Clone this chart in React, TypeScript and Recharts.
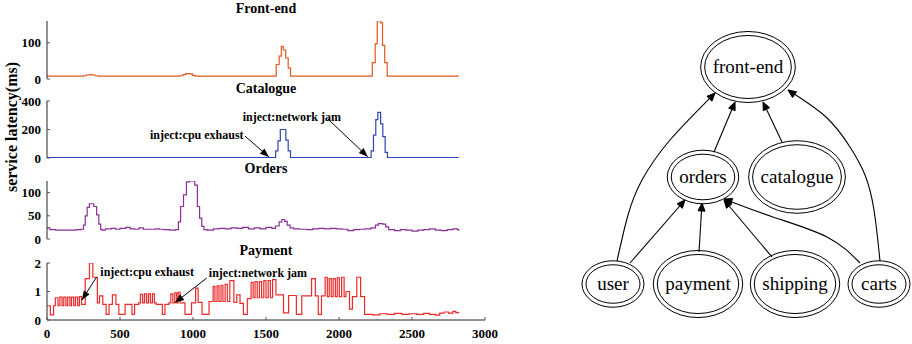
import React from "react";
import {
  LineChart,
  Line,
  XAxis,
  YAxis,
  ReferenceLine,
  ReferenceDot,
  ComposedChart,
  Scatter,
} from "recharts";

// ---- data (x = time index, y = latency) ----
const X_TICKS = [0, 500, 1000, 1500, 2000, 2500, 3000];

const frontEnd: [number, number][] = [
  [0, 8], [250, 9], [270, 11], [290, 12], [310, 11], [330, 9], [350, 8],
  [910, 9], [930, 12], [950, 15], [975, 14], [995, 10], [1015, 8],
  [1570, 40], [1590, 63], [1605, 90], [1618, 80], [1635, 58], [1652, 30], [1668, 8],
  [2228, 45], [2248, 97], [2262, 160], [2286, 155], [2298, 93], [2313, 45], [2330, 8],
  [2820, 8],
];

const catalogue: [number, number][] = [
  [0, 3], [1566, 50], [1582, 120], [1598, 200], [1636, 125], [1652, 50], [1668, 3],
  [2220, 50], [2236, 160], [2252, 270], [2266, 320], [2285, 240], [2300, 150], [2316, 40], [2332, 3],
  [2820, 3],
];

const orders: [number, number][] = [
  [0, 24], [20, 20], [60, 19], [120, 19], [200, 20], [232, 21], [250, 30], [262, 50], [275, 68],
  [290, 76], [320, 70], [340, 52], [355, 32], [368, 20], [380, 19], [400, 22], [440, 23], [470, 21],
  [500, 23], [540, 25], [570, 22], [600, 21], [630, 24], [660, 21], [700, 21], [740, 22], [770, 21],
  [800, 20], [840, 19], [880, 20], [900, 37], [915, 70], [935, 95], [955, 123], [975, 125], [995, 125],
  [1012, 116], [1030, 70], [1045, 45], [1060, 27], [1075, 20], [1100, 19], [1140, 22], [1180, 23],
  [1220, 22], [1260, 24], [1300, 23], [1340, 25], [1380, 22], [1420, 24], [1460, 22], [1500, 25],
  [1540, 23], [1565, 28], [1590, 37], [1608, 42], [1628, 38], [1645, 30], [1665, 24], [1690, 22],
  [1730, 21], [1780, 20], [1820, 22], [1860, 23], [1900, 22], [1940, 23], [1980, 22], [2020, 21],
  [2060, 18], [2100, 20], [2140, 21], [2180, 22], [2220, 24], [2250, 30], [2270, 33], [2300, 32],
  [2320, 26], [2340, 20], [2380, 18], [2420, 20], [2460, 19], [2500, 17], [2540, 19], [2580, 20],
  [2620, 22], [2660, 19], [2700, 18], [2740, 20], [2780, 22], [2810, 20], [2820, 18],
];

const payment: [number, number][] = [
  [0, 0.5], [23, 0.18], [45, 0.5], [57, 0.78], [75, 0.5], [88, 0.8], [103, 0.5], [115, 0.8],
  [130, 0.5], [142, 0.8], [157, 0.5], [168, 0.8], [183, 0.5], [195, 0.8], [210, 0.5], [222, 0.82],
  [237, 0.55], [262, 1.45], [291, 2.0], [314, 1.5], [345, 0.6], [360, 0.85], [382, 0.55], [405, 0.2],
  [425, 0.55], [448, 0.88], [472, 0.55], [492, 0.2], [535, 0.55], [582, 0.2], [600, 0.55], [628, 0.6],
  [640, 0.9], [655, 0.6], [668, 0.92], [682, 0.6], [695, 0.92], [708, 0.6], [722, 0.92], [735, 0.6],
  [748, 0.55], [790, 0.2], [808, 0.55], [835, 0.6], [848, 0.92], [862, 0.6], [875, 0.95], [888, 0.6],
  [898, 0.97], [912, 0.6], [945, 0.2], [990, 0.6], [1018, 1.12], [1035, 0.62], [1062, 0.2],
  [1110, 0.65], [1138, 1.18], [1150, 0.65], [1165, 1.2], [1178, 0.65], [1192, 1.22], [1205, 0.65],
  [1220, 1.25], [1235, 0.65], [1252, 1.38], [1280, 0.62], [1300, 0.88], [1322, 0.58], [1345, 0.2],
  [1372, 0.75], [1398, 1.32], [1412, 0.78], [1425, 1.35], [1440, 0.78], [1455, 1.35], [1470, 0.78],
  [1485, 1.38], [1500, 0.78], [1515, 1.38], [1530, 0.78], [1545, 1.42], [1568, 0.88], [1620, 0.25],
  [1655, 0.86], [1708, 0.2], [1745, 0.85], [1812, 1.45], [1838, 0.85], [1858, 0.2], [1880, 0.85],
  [1905, 1.5], [1920, 0.82], [1933, 1.45], [1947, 0.82], [1960, 1.45], [1975, 0.82], [1988, 1.48],
  [2002, 0.82], [2018, 1.5], [2035, 0.82], [2048, 1.0], [2072, 0.38], [2092, 0.82], [2122, 1.5],
  [2148, 0.82], [2175, 0.2], [2230, 0.18], [2280, 0.22], [2330, 0.2], [2380, 0.23], [2430, 0.2],
  [2480, 0.22], [2530, 0.2], [2580, 0.23], [2620, 0.2], [2660, 0.17], [2690, 0.24], [2720, 0.28],
  [2750, 0.24], [2780, 0.3], [2800, 0.26], [2820, 0.27],
];

type Note = { text: string; at: [number, number]; from: [number, number]; to: [number, number] };

const catalogueNotes: Note[] = [
  { text: "inject:cpu exhaust", at: [1026, 166], from: [1356, 154], to: [1520, 7] },
  { text: "inject:network jam", at: [1677, 290], from: [1924, 274], to: [2197, 9] },
];
const paymentNotes: Note[] = [
  { text: "inject:cpu exhaust", at: [686, 1.69], from: [340, 1.51], to: [239, 0.7] },
  { text: "inject:network jam", at: [1445, 1.65], from: [1094, 1.47], to: [877, 0.61] },
];

// dependency graph
const graphEdges: [string, string][] = [
  ["user", "front-end"],
  ["orders", "front-end"],
  ["catalogue", "front-end"],
  ["carts", "front-end"],
  ["user", "orders"],
  ["payment", "orders"],
  ["shipping", "orders"],
  ["carts", "orders"],
];

// ---- layout / style ----
const FONT = '"Liberation Serif", "Times New Roman", serif';
const AXIS = "#262626";
const TICK = "#555";
const CHART_W = 500;
const PLOT_LEFT = 47;
const PLOT_RIGHT = 485;

// graph layout in panel pixels (graphviz-like)
const NODE_POS: Record<string, [number, number]> = {
  "front-end": [188, 67],
  orders: [143, 177],
  catalogue: [237, 177],
  user: [53, 284],
  payment: [138, 284],
  shipping: [235, 284],
  carts: [319, 284],
};
const EDGE_ROUTES: [number, number][][] = [
  [[57, 261], [68, 215], [82, 180], [110, 140], [155, 93]],
  [[154, 152], [175, 102]],
  [[222, 142], [203, 102]],
  [[320, 261], [314, 210], [305, 175], [290, 147], [266, 117], [228, 90]],
  [[70, 263], [125, 200]],
  [[139, 252], [142, 203]],
  [[212, 257], [164, 200]],
  [[300, 263], [267, 237], [213, 217], [164, 199]],
];

function arrowHead(x1: number, y1: number, x2: number, y2: number, len: number, half: number) {
  const a = Math.atan2(y2 - y1, x2 - x1);
  const bx = x2 - len * Math.cos(a);
  const by = y2 - len * Math.sin(a);
  const px = -Math.sin(a) * half;
  const py = Math.cos(a) * half;
  return `${x2},${y2} ${bx + px},${by + py} ${bx - px},${by - py}`;
}

let measureCtx: CanvasRenderingContext2D | null = null;
function textWidth(s: string) {
  if (typeof document === "undefined") return s.length * 8.2;
  if (!measureCtx) measureCtx = document.createElement("canvas").getContext("2d");
  if (!measureCtx) return s.length * 8.2;
  measureCtx.font = `19px ${FONT}`;
  return measureCtx.measureText(s).width;
}

function Panel({
  title,
  series,
  color,
  plotTop,
  plotHeight,
  yMax,
  yTicks,
  xLabels = false,
  notes = [],
}: {
  title: string;
  series: [number, number][];
  color: string;
  plotTop: number;
  plotHeight: number;
  yMax: number;
  yTicks: number[];
  xLabels?: boolean;
  notes?: Note[];
}) {
  // extra room above/below the plot so edge tick labels are not clipped
  const mt = 9;
  const mb = xLabels ? 2 : 9;
  const xh = xLabels ? 22 : 0;
  const rows = series.map(([x, y]) => ({ x, y }));
  return (
    <>
      <div
        style={{
          position: "absolute",
          left: PLOT_LEFT,
          width: PLOT_RIGHT - PLOT_LEFT,
          top: plotTop - 20,
          lineHeight: "16px",
          textAlign: "center",
          fontFamily: FONT,
          fontWeight: "bold",
          fontSize: 14,
          color: "#000",
        }}
      >
        {title}
      </div>
      <div style={{ position: "absolute", left: 0, top: plotTop - mt }}>
        <LineChart
          width={CHART_W}
          height={mt + plotHeight + xh + mb}
          data={rows}
          margin={{ top: mt, right: CHART_W - PLOT_RIGHT, bottom: mb, left: PLOT_LEFT - 40 }}
        >
          <XAxis
            xAxisId="b"
            dataKey="x"
            type="number"
            domain={[0, 3000]}
            ticks={X_TICKS}
            interval={0}
            allowDataOverflow
            height={xh}
            tickSize={0}
            tickMargin={9}
            tickLine={false}
            axisLine={{ stroke: AXIS }}
            tick={(p: any) => (
              <g>
                <line x1={p.x} x2={p.x} y1={p.y - 9} y2={p.y - 12} stroke={TICK} />
                {xLabels && (
                  <text x={p.x} y={p.y} dy="0.71em" textAnchor="middle" fontFamily={FONT} fontWeight="bold" fontSize={13} fill="#000">
                    {p.payload.value}
                  </text>
                )}
              </g>
            )}
          />
          <XAxis
            xAxisId="t"
            dataKey="x"
            type="number"
            orientation="top"
            domain={[0, 3000]}
            ticks={X_TICKS}
            interval={0}
            allowDataOverflow
            height={0}
            tickSize={0}
            tickMargin={0}
            tickLine={false}
            axisLine={{ stroke: AXIS }}
            tick={(p: any) => <line x1={p.x} x2={p.x} y1={p.y} y2={p.y + 3} stroke={TICK} />}
          />
          <YAxis
            yAxisId="l"
            type="number"
            domain={[0, yMax]}
            ticks={yTicks}
            interval={0}
            allowDataOverflow
            width={40}
            tickSize={0}
            tickMargin={6}
            tickLine={false}
            axisLine={{ stroke: AXIS }}
            tick={(p: any) => (
              <g>
                <line x1={p.x + 6} x2={p.x + 9} y1={p.y} y2={p.y} stroke={TICK} />
                <text x={p.x} y={p.y} dy="0.36em" textAnchor="end" fontFamily={FONT} fontWeight="bold" fontSize={13} fill="#000">
                  {p.payload.value}
                </text>
              </g>
            )}
          />
          <YAxis
            yAxisId="r"
            orientation="right"
            type="number"
            domain={[0, yMax]}
            ticks={yTicks}
            interval={0}
            allowDataOverflow
            width={0}
            tickSize={0}
            tickMargin={0}
            tickLine={false}
            axisLine={{ stroke: AXIS }}
            tick={(p: any) => <line x1={p.x} x2={p.x - 3} y1={p.y} y2={p.y} stroke={TICK} />}
          />
          <Line
            xAxisId="b"
            yAxisId="l"
            dataKey="y"
            type="stepAfter"
            stroke={color}
            strokeWidth={1.2}
            dot={false}
            activeDot={false}
            isAnimationActive={false}
          />
          {notes.map((n, i) => (
            <ReferenceLine
              key={`l${i}`}
              xAxisId="b"
              yAxisId="l"
              ifOverflow="visible"
              segment={[
                { x: n.from[0], y: n.from[1] },
                { x: n.to[0], y: n.to[1] },
              ]}
              shape={(p: any) => (
                <g>
                  <line x1={p.x1} y1={p.y1} x2={p.x2} y2={p.y2} stroke="#000" strokeWidth={1} />
                  <polygon points={arrowHead(p.x1, p.y1, p.x2, p.y2, 9, 3.5)} fill="#000" />
                </g>
              )}
            />
          ))}
          {notes.map((n, i) => (
            <ReferenceDot
              key={`t${i}`}
              xAxisId="b"
              yAxisId="l"
              x={n.at[0]}
              y={n.at[1]}
              r={0}
              ifOverflow="visible"
              shape={(p: any) => (
                <text x={p.cx} y={p.cy} dy="0.35em" textAnchor="middle" fontFamily={FONT} fontWeight="bold" fontSize={12} fill="#000">
                  {n.text}
                </text>
              )}
            />
          ))}
        </LineChart>
      </div>
    </>
  );
}

function NodeShape(p: any) {
  const { cx, cy, payload } = p;
  const rx = Math.max(31, textWidth(payload.name) / 2 + 12);
  const ry = rx * 0.75;
  return (
    <g>
      <ellipse cx={cx} cy={cy} rx={rx} ry={ry} fill="none" stroke="#000" strokeWidth={1} />
      <ellipse cx={cx} cy={cy} rx={rx - 4} ry={ry - 4} fill="none" stroke="#000" strokeWidth={1} />
      <text x={cx} y={cy} dy="0.3em" textAnchor="middle" fontFamily={FONT} fontSize={19} fill="#000">
        {payload.name}
      </text>
    </g>
  );
}

function Graph() {
  const nodes = Object.keys(NODE_POS).map((name) => ({ name, x: NODE_POS[name][0], y: NODE_POS[name][1] }));
  return (
    <div style={{ position: "absolute", left: 560, top: 0 }}>
      <ComposedChart width={352} height={344} margin={{ top: 0, right: 0, bottom: 0, left: 0 }}>
        <XAxis dataKey="x" type="number" domain={[0, 352]} allowDataOverflow hide />
        <YAxis dataKey="y" type="number" domain={[0, 344]} reversed allowDataOverflow hide />
        {graphEdges.map((e, i) => {
          const route = EDGE_ROUTES[i];
          const pts = route.map(([x, y]) => ({ x, y }));
          const last = route.length - 1;
          return (
            <Line
              key={`${e[0]}-${e[1]}`}
              data={pts}
              dataKey="y"
              type="natural"
              stroke="#000"
              strokeWidth={1.1}
              activeDot={false}
              isAnimationActive={false}
              dot={(d: any) => {
                if (d.index !== last) return <g key={`d${i}-${d.index}`} />;
                const [ax, ay] = route[last - 1];
                const [bx, by] = route[last];
                const a = Math.atan2(by - ay, bx - ax);
                const ox = d.cx - Math.cos(a) * 8;
                const oy = d.cy - Math.sin(a) * 8;
                return <polygon key={`d${i}-${d.index}`} points={arrowHead(ox, oy, d.cx, d.cy, 8, 3.5)} fill="#000" stroke="#000" />;
              }}
            />
          );
        })}
        <Scatter data={nodes} shape={NodeShape} isAnimationActive={false} />
      </ComposedChart>
    </div>
  );
}

export default function App() {
  return (
    <div style={{ position: "absolute", left: 0, top: 0, width: 912, height: 344, background: "#fff" }}>
      <Panel title="Front-end" series={frontEnd} color="#e2581f" plotTop={21} plotHeight={58} yMax={160} yTicks={[0, 100]} />
      <Panel
        title="Catalogue"
        series={catalogue}
        color="#3043b4"
        plotTop={101}
        plotHeight={57}
        yMax={400}
        yTicks={[0, 200, 400]}
        notes={catalogueNotes}
      />
      <Panel title="Orders" series={orders} color="#8b2f97" plotTop={181} plotHeight={58} yMax={125} yTicks={[0, 50, 100]} />
      <Panel
        title="Payment"
        series={payment}
        color="#ec2a2a"
        plotTop={263}
        plotHeight={57}
        yMax={2}
        yTicks={[0, 1, 2]}
        xLabels
        notes={paymentNotes}
      />
      <div
        style={{
          position: "absolute",
          left: 12,
          top: 127,
          transform: "translate(-50%, -50%) rotate(-90deg)",
          whiteSpace: "nowrap",
          fontFamily: FONT,
          fontWeight: "bold",
          fontSize: 16,
          color: "#000",
        }}
      >
        service latency(ms)
      </div>
      <Graph />
    </div>
  );
}
